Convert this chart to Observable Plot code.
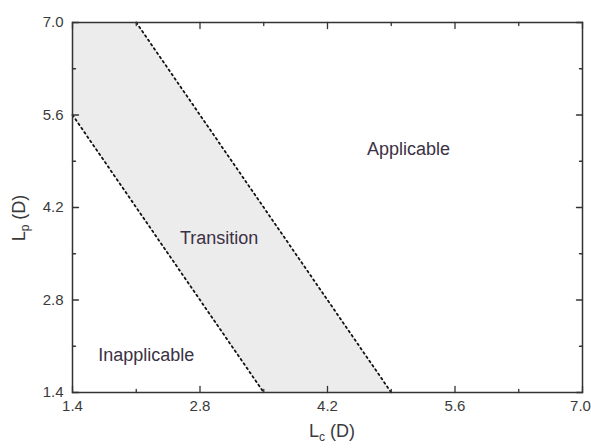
<!DOCTYPE html>
<html>
<head>
<meta charset="utf-8">
<script src="https://cdn.jsdelivr.net/npm/d3@7"></script>
<script src="https://cdn.jsdelivr.net/npm/@observablehq/plot@0.6"></script>
<style>
  html, body { margin: 0; padding: 0; background: #fff; }
  #chart { width: 591px; height: 448px; }
</style>
</head>
<body>
<div id="chart"></div>
<script>
// ---- data ----
const majorTicks = [1.4, 2.8, 4.2, 5.6, 7.0];
const minorTicks = [2.1, 3.5, 4.9, 6.3];
// transition band (shaded) vertices, sampled at the corners
const bandX     = [1.4, 2.1, 3.5, 4.9];
const bandLower = [5.6, 4.2, 1.4, 1.4];
const bandUpper = [7.0, 7.0, 4.2, 1.4];
// dotted boundaries
const lowerBoundX = [1.4, 3.5];
const lowerBoundY = [5.6, 1.4];
const upperBoundX = [2.1, 4.9];
const upperBoundY = [7.0, 1.4];
// region labels
const regionNames = ["Applicable", "Transition", "Inapplicable"];
const regionX = [5.09, 3.01, 2.21];
const regionY = [5.08, 3.73, 1.96];

const band = bandX.map((x, i) => ({x, y1: bandLower[i], y2: bandUpper[i]}));
const lowerBound = lowerBoundX.map((x, i) => ({x, y: lowerBoundY[i]}));
const upperBound = upperBoundX.map((x, i) => ({x, y: upperBoundY[i]}));
const regions = regionNames.map((name, i) => ({name, x: regionX[i], y: regionY[i]}));

const tickShape = {draw(context, l) { context.moveTo(0, 0); context.lineTo(0, -l); }};
function inTicks(vals, len, axis, pos, rotate) {
  return Plot.vector(vals, axis === "x"
    ? {x: d => d, y: pos, length: len, rotate, anchor: "start", shape: tickShape, stroke: "#333", strokeWidth: 1.3}
    : {y: d => d, x: pos, length: len, rotate, anchor: "start", shape: tickShape, stroke: "#333", strokeWidth: 1.3});
}

const W = 591, H = 448, ML = 72, MR = 9, MT = 22, MB = 56;
const fmt = d => d.toFixed(1);

const chart = Plot.plot({
  width: W, height: H,
  marginLeft: ML, marginRight: MR, marginTop: MT, marginBottom: MB,
  style: {fontFamily: "'Liberation Sans', Arial, sans-serif", fontSize: "15px", color: "#333", background: "#fff"},
  x: {domain: [1.4, 7.0]},
  y: {domain: [1.4, 7.0]},
  marks: [
    Plot.areaY(band, {x: "x", y1: "y1", y2: "y2", fill: "#ececec"}),
    Plot.line(lowerBound, {x: "x", y: "y", stroke: "#111", strokeWidth: 1.8, strokeDasharray: "1.8,3.4"}),
    Plot.line(upperBound, {x: "x", y: "y", stroke: "#111", strokeWidth: 1.8, strokeDasharray: "1.8,3.4"}),
    Plot.text(regions, {x: "x", y: "y", text: "name", fontSize: 18, fill: "#3b3145"}),
    Plot.axisX({ticks: majorTicks.slice(0, -1), tickFormat: fmt, tickSize: 0, tickPadding: 8, fontSize: 15, fill: "#3a3a3a", label: null}),
    Plot.axisX({ticks: majorTicks.slice(-1), tickFormat: fmt, tickSize: 0, tickPadding: 8, fontSize: 15, fill: "#3a3a3a", label: null, dx: -2}),
    Plot.axisY({ticks: majorTicks, tickFormat: fmt, tickSize: 0, tickPadding: 9, fontSize: 15, fill: "#3a3a3a", label: null}),
    // inward ticks on all four sides
    inTicks(majorTicks, 6, "x", 1.4, 0),
    inTicks(minorTicks, 3, "x", 1.4, 0),
    inTicks(majorTicks, 6, "x", 7.0, 180),
    inTicks(minorTicks, 3, "x", 7.0, 180),
    inTicks(majorTicks, 6, "y", 1.4, 90),
    inTicks(minorTicks, 3, "y", 1.4, 90),
    inTicks(majorTicks, 6, "y", 7.0, 270),
    inTicks(minorTicks, 3, "y", 7.0, 270),
    Plot.frame({stroke: "#333", strokeWidth: 1.5})
  ]
});

const svg = d3.select(chart);
const cx = (ML + (W - MR)) / 2 + 5;
const t1 = svg.append("text")
  .attr("x", cx).attr("y", H - 11)
  .attr("text-anchor", "middle")
  .attr("font-size", 18).attr("fill", "#3a3a3a");
t1.append("tspan").text("L");
t1.append("tspan").attr("font-size", 12).attr("dy", 4).text("c");
t1.append("tspan").attr("dy", -4).text(" (D)");

const cy = (MT + (H - MB)) / 2 + 11;
const t2 = svg.append("text")
  .attr("transform", `translate(25,${cy}) rotate(-90)`)
  .attr("text-anchor", "middle")
  .attr("font-size", 18).attr("fill", "#3a3a3a");
t2.append("tspan").text("L");
t2.append("tspan").attr("font-size", 12).attr("dy", 4).text("p");
t2.append("tspan").attr("dy", -4).text(" (D)");

document.getElementById("chart").appendChild(chart);
</script>
</body>
</html>
